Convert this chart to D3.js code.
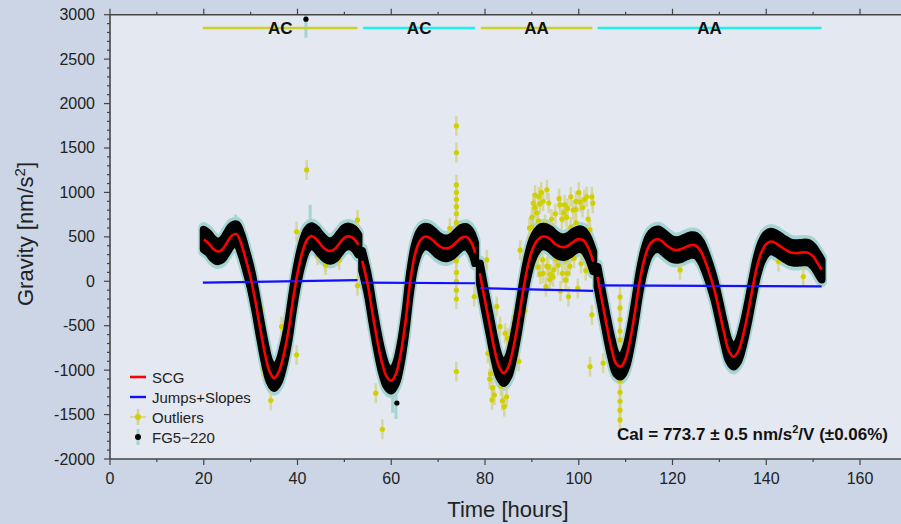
<!DOCTYPE html>
<html><head><meta charset="utf-8">
<script src="https://cdn.jsdelivr.net/npm/d3@7"></script>
<style>
html,body{margin:0;padding:0;background:#cbd5e5;}
svg{display:block;font-family:"Liberation Sans",Arial,Helvetica,sans-serif;}
</style></head><body>
<svg id="c" width="901" height="524"></svg>
<script>
// ---------------- DATA ----------------
const scgHours = [20,21,22,23,24,25,26,27,28,29,30,31,32,33,34,35,36,37,38,39,40,41,42,43,44,45,46,47,48,49,50,51,52,53,
  53.8,55,56,57,58,59,60,61,62,63,64,65,66,67,68,69,70,71,72,73,74,75,76,77,77.9,
  78.9,80,81,82,83,84,85,86,87,88,89,90,91,92,93,94,95,96,97,98,99,100,101,102,103.1,
  104,105,106,107,108,109,110,111,112,113,114,115,116,117,118,119,120,121,122,123,124,125,126,127,128,129,130,131,132,133,134,135,136,137,138,139,140,141,142,143,144,145,146,147,148,149,150,151,151.8];
const scgGravity = [470,430,365,335,360,440,515,530,420,240,40,-220,-520,-800,-1010,-1090,-1020,-840,-580,-220,90,320,465,510,475,410,360,340,365,430,490,505,480,410,
  230,-40,-360,-660,-910,-1070,-1120,-1040,-820,-470,-20,290,445,500,495,455,405,375,372,395,445,490,500,445,320,
  90,-220,-490,-760,-960,-1035,-960,-760,-480,-150,140,340,450,500,500,470,420,390,385,410,450,474,460,380,222,
  50,-230,-510,-760,-930,-960,-870,-650,-340,0,250,400,460,473,440,395,360,352,365,390,408,400,340,220,70,-110,-340,-580,-780,-850,-790,-620,-380,-100,160,330,420,447,430,395,360,330,318,320,325,320,280,200,130];
const jumpHours = [53.4, 78.4, 103.5];
const fg5Spread = 110;       // typical scatter of FG5 drops around SCG [nm/s^2]
const fg5ErrorSpread = 135;  // extent of FG5 error bars [nm/s^2]

const slopeStartHour = [19.8, 53.8, 78.9, 104.0];
const slopeEndHour = [52.8, 77.9, 103.1, 151.8];
const slopeStartGravity = [-15, -15, -78, -45];
const slopeEndGravity = [12, -22, -108, -58];

const setupLabels = ["AC", "AC", "AA", "AA"];
const setupStart = [19.8, 54.0, 79.1, 104.0];
const setupEnd = [52.8, 77.9, 102.9, 151.8];

const outlierHours = [32.1,32.7,34.3,36.6,39.8,39.8,41.96,44.3,45.9,46.0,48.9,52.8,52.8,
  56.7,58.1,72.5,77.7,
  73.9,73.9,73.9,73.9,73.9,73.9,73.9,73.9,73.9,73.9,73.9,73.9,73.9,73.9,73.9,73.9,73.9,
  80.4,80.6,81.0,81.5,82.5,83.2,83.7,84.1,84.3,84.8,85.4,85.8,86.4,86.9,87.5,88.0,88.5,87.5,88.5,89.2,
  90.7,91.0,91.7,92.4,93.2,92.4,93.0,93.5,94.0,94.5,97.0,98.3,99.4,100.3,101.7,102.8,98.3,99.4,97.8,97.2,97.6,96.5,102.8,102.4,
  90.0,90.0,90.6,91.4,96.0,96.8,97.6,99.4,102.4,91.0,91.3,91.8,92.3,93.2,93.8,94.7,95.6,96.1,97.1,98.1,
  81.2,81.6,82.0,83.4,84.6,85.2,86.1,86.6,87.2,
  89.5,89.8,90.3,91.5,92.0,92.8,93.6,94.2,95.0,95.8,96.4,97.4,98.8,100.0,100.8,101.2,102.0,103.0,95.2,99.0,100.5,101.5,99.8,
  105.2,108.8,108.8,108.8,108.8,108.8,108.8,108.8,108.8,108.8,108.8,121.6,142.6,147.9];
const outlierGravity = [-303,-978,-1340,-510,-828,560,1253,297,218,184,240,690,-50,
  -1259,-1665,597,-172,
  1748,1448,1085,1000,920,840,760,660,560,450,340,230,100,0,-100,-200,-1016,
  241,-810,-1100,-1335,-284,-510,-1345,-1410,-585,-640,-810,-560,-400,-360,-330,-260,-330,350,200,160,
  970,770,870,900,1030,90,-60,160,80,50,860,950,900,890,950,950,610,660,-172,15,90,90,-378,-960,
  720,610,830,680,860,770,820,810,578,300,160,80,240,170,20,130,180,-110,240,170,
  -1040,-1200,-1280,-1180,-1300,-700,-470,-650,-900,
  600,480,880,950,1000,640,880,700,760,930,700,720,800,1000,830,920,700,880,250,260,200,120,-80,
  -920,-175,-300,-430,-560,-660,-1120,-1250,-1350,-1450,-1560,128,222,53];

const fg5StrayHours = [41.8, 61.2, 77.7];
const fg5StrayGravity = [2950, -1370, 190];
const fg5SpikeHours = [41.8, 42.7, 26.8, 61.0, 60.3, 52.9, 90.2];
const fg5SpikeLow = [2740, 400, 480, -1100, -1150, 380, 500];
const fg5SpikeHigh = [3000, 860, 750, -1550, -1480, 560, 760];

const xTicks = [0,20,40,60,80,100,120,140,160];
const yTicks = [-2000,-1500,-1000,-500,0,500,1000,1500,2000,2500,3000];
const legendLabels = ["SCG", "Jumps+Slopes", "Outliers", "FG5\u2212220"];

// ---------------- CHART ----------------
const svg = d3.select("#c");
const L = 110, T = 14.7, B = 459;
const x = d3.scaleLinear().domain([0, 170]).range([L, L + 170 * 4.6875]);
const y = d3.scaleLinear().domain([-2000, 3000]).range([B, T]);

svg.append("rect").attr("width", 901).attr("height", 524).attr("fill", "#cbd5e5");
svg.append("rect").attr("x", L).attr("y", T).attr("width", 901 - L).attr("height", B - T).attr("fill", "#e4e8f0");

const plot = svg.append("g");

const bounds = [-Infinity, ...jumpHours, Infinity];
const segments = [];
for (let i = 0; i < bounds.length - 1; i++) {
  const pts = [];
  scgHours.forEach((h, j) => { if (h > bounds[i] && h < bounds[i + 1]) pts.push([h, scgGravity[j]]); });
  segments.push(pts);
}
const curve = d3.curveCatmullRom.alpha(0.5);
const line = d3.line().x(d => x(d[0])).y(d => y(d[1])).curve(curve);
const band = s => d3.area().x(d => x(d[0])).y0(d => y(d[1] - s)).y1(d => y(d[1] + s)).curve(curve);

const cyan = "#a5d5d3";
// FG5 error bars (cyan halo)
segments.forEach(s => {
  plot.append("path").attr("d", band(fg5ErrorSpread)(s)).attr("fill", cyan)
    .attr("stroke", cyan).attr("stroke-width", 11).attr("stroke-linejoin", "round");
});
fg5SpikeHours.forEach((h, i) => plot.append("line").attr("x1", x(h)).attr("x2", x(h))
  .attr("y1", y(fg5SpikeLow[i])).attr("y2", y(fg5SpikeHigh[i])).attr("stroke", cyan).attr("stroke-width", 3));

// outliers
const og = plot.append("g");
outlierHours.forEach((h, i) => {
  og.append("line").attr("x1", x(h)).attr("x2", x(h)).attr("y1", y(outlierGravity[i]) - 10).attr("y2", y(outlierGravity[i]) + 10)
    .attr("stroke", "#d2d28a").attr("stroke-opacity", 0.8).attr("stroke-width", 2.5);
});
outlierHours.forEach((h, i) => {
  og.append("circle").attr("cx", x(h)).attr("cy", y(outlierGravity[i])).attr("r", 2.6).attr("fill", "#d0d000");
});

// FG5 drops (black)
segments.forEach(s => {
  plot.append("path").attr("d", band(fg5Spread)(s)).attr("fill", "#000")
    .attr("stroke", "#000").attr("stroke-width", 8).attr("stroke-linejoin", "round");
});
fg5StrayHours.forEach((h, i) => plot.append("circle").attr("cx", x(h)).attr("cy", y(fg5StrayGravity[i])).attr("r", 2.6).attr("fill", "#000"));

// jumps+slopes
slopeStartHour.forEach((h, i) => plot.append("line")
  .attr("x1", x(h)).attr("x2", x(slopeEndHour[i]))
  .attr("y1", y(slopeStartGravity[i])).attr("y2", y(slopeEndGravity[i]))
  .attr("stroke", "#1010ff").attr("stroke-width", 2.2));

// SCG
segments.forEach(s => plot.append("path").attr("d", line(s)).attr("fill", "none")
  .attr("stroke", "#ff0000").attr("stroke-width", 2.6));

// setup bars
const setupColors = ["#cfcf2a", "#22eeee", "#cfcf2a", "#22eeee"];
setupLabels.forEach((lab, i) => {
  svg.append("line").attr("x1", x(setupStart[i])).attr("x2", x(setupEnd[i])).attr("y1", 28).attr("y2", 28)
    .attr("stroke", setupColors[i]).attr("stroke-width", 2.6);
  svg.append("text").attr("x", x((setupStart[i] + setupEnd[i]) / 2)).attr("y", 33.5).attr("text-anchor", "middle")
    .attr("font-size", 17).attr("font-weight", "bold").attr("fill", "#111").text(lab);
});

// axes
const axisColor = "#444";
const ax = svg.append("g").attr("stroke", axisColor);
ax.append("line").attr("x1", L).attr("x2", 901).attr("y1", B).attr("y2", B).attr("stroke-width", 1.6);
ax.append("line").attr("x1", L).attr("x2", 901).attr("y1", T).attr("y2", T).attr("stroke-width", 1.6);
ax.append("line").attr("x1", L).attr("x2", L).attr("y1", T).attr("y2", B).attr("stroke-width", 1.6);
d3.range(0, 171, 10).forEach(v => {
  const major = v % 20 === 0;
  ax.append("line").attr("x1", x(v)).attr("x2", x(v)).attr("y1", B).attr("y2", B + (major ? 6 : 3)).attr("stroke-width", 1.2);
  ax.append("line").attr("x1", x(v)).attr("x2", x(v)).attr("y1", T).attr("y2", T - (major ? 6 : 3)).attr("stroke-width", 1.2);
});
d3.range(-2000, 3001, 100).forEach(v => {
  const major = v % 500 === 0;
  ax.append("line").attr("x1", L).attr("x2", L - (major ? 6 : 3)).attr("y1", y(v)).attr("y2", y(v)).attr("stroke-width", 1.2);
});
const tl = svg.append("g").attr("fill", "#222").attr("font-size", 16);
xTicks.forEach(v => tl.append("text").attr("x", x(v)).attr("y", B + 25).attr("text-anchor", "middle").text(v));
yTicks.forEach(v => tl.append("text").attr("x", L - 15).attr("y", y(v) + 5.5).attr("text-anchor", "end").text(v));

// axis titles
svg.append("text").attr("x", 508).attr("y", 517).attr("text-anchor", "middle").attr("font-size", 22).attr("fill", "#222").text("Time [hours]");
const gt = svg.append("text").attr("transform", "translate(33,234) rotate(-90)")
  .attr("text-anchor", "middle").attr("font-size", 22).attr("fill", "#222");
gt.append("tspan").text("Gravity [nm/s");
gt.append("tspan").attr("font-size", 15).attr("dy", -8).text("2");
gt.append("tspan").attr("dy", 8).text("]");

// legend
const lg = svg.append("g").attr("font-size", 15).attr("fill", "#222");
const ly = [377, 397, 417, 437];
lg.append("line").attr("x1", 130).attr("x2", 146).attr("y1", ly[0]).attr("y2", ly[0]).attr("stroke", "#ff0000").attr("stroke-width", 2.6);
lg.append("line").attr("x1", 130).attr("x2", 146).attr("y1", ly[1]).attr("y2", ly[1]).attr("stroke", "#1010ff").attr("stroke-width", 2.4);
lg.append("line").attr("x1", 130).attr("x2", 146).attr("y1", ly[2]).attr("y2", ly[2]).attr("stroke", "#d2d28a").attr("stroke-width", 1.5);
lg.append("line").attr("x1", 138).attr("x2", 138).attr("y1", ly[2] - 8).attr("y2", ly[2] + 8).attr("stroke", "#d2d28a").attr("stroke-width", 2.5);
lg.append("circle").attr("cx", 138).attr("cy", ly[2]).attr("r", 3).attr("fill", "#d0d000");
lg.append("line").attr("x1", 138).attr("x2", 138).attr("y1", ly[3] - 8).attr("y2", ly[3] + 8).attr("stroke", cyan).attr("stroke-width", 3);
lg.append("circle").attr("cx", 138).attr("cy", ly[3]).attr("r", 3).attr("fill", "#000");
legendLabels.forEach((t, i) => lg.append("text").attr("x", 152).attr("y", ly[i] + 5.5).text(t));

// calibration text
const ct = svg.append("text").attr("x", 888).attr("y", 440).attr("text-anchor", "end")
  .attr("font-size", 17).attr("font-weight", "bold").attr("fill", "#111");
ct.append("tspan").text("Cal = 773.7 \u00b1 0.5 nm/s");
ct.append("tspan").attr("font-size", 11).attr("dy", -7).text("2");
ct.append("tspan").attr("dy", 7).text("/V (\u00b10.06%)");
</script>
</body></html>
